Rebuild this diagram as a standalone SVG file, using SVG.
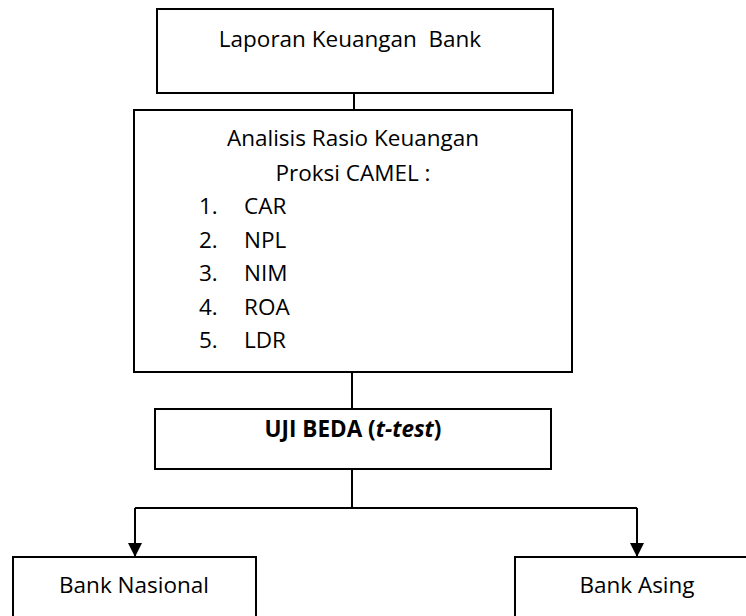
<svg xmlns="http://www.w3.org/2000/svg" width="746" height="616" viewBox="0 0 746 616">
<defs>
<style>
.box{fill:#fff;stroke:#000;stroke-width:2}
.t{font-family:"Open Sans","Noto Sans","Liberation Sans",sans-serif;font-size:22.5px;fill:#000}
.c{text-anchor:middle}
.b{font-weight:bold}
.ln{fill:none;stroke:#000;stroke-width:2}
</style>
<marker id="ah" viewBox="0 0 14 14" refX="14" refY="7" markerWidth="14" markerHeight="14" markerUnits="userSpaceOnUse" orient="auto">
<path d="M0,0 L14,7 L0,14 Z" fill="#000"/>
</marker>
</defs>
<rect width="746" height="616" fill="#fff"/>
<g id="connectors">
<line class="ln" x1="354" y1="93" x2="354" y2="110"/>
<line class="ln" x1="352" y1="372" x2="352" y2="409"/>
<path class="ln" d="M352,469 V508 M135,508 H637"/>
<path class="ln" d="M135,508 V557" marker-end="url(#ah)"/>
<path class="ln" d="M637,508 V557" marker-end="url(#ah)"/>
</g>
<g id="laporan">
<rect class="box" x="157" y="9" width="396" height="84"/>
<text class="t c" x="350" y="47" xml:space="preserve">Laporan Keuangan  Bank</text>
</g>
<g id="analisis">
<rect class="box" x="134" y="110" width="438" height="262"/>
<text class="t c" x="353" y="146">Analisis Rasio Keuangan</text>
<text class="t c" x="353" y="181">Proksi CAMEL :</text>
<text class="t" x="199" y="214">1.</text><text class="t" x="244" y="214">CAR</text>
<text class="t" x="199" y="248">2.</text><text class="t" x="244" y="248">NPL</text>
<text class="t" x="199" y="281">3.</text><text class="t" x="244" y="281">NIM</text>
<text class="t" x="199" y="315">4.</text><text class="t" x="244" y="315">ROA</text>
<text class="t" x="199" y="348">5.</text><text class="t" x="244" y="348">LDR</text>
</g>
<g id="uji">
<rect class="box" x="155" y="409" width="396" height="60"/>
<text class="t c b" x="353" y="437">UJI BEDA (<tspan font-style="italic">t-test</tspan>)</text>
</g>
<g id="nasional">
<rect class="box" x="13" y="557" width="243" height="80"/>
<text class="t c" x="134" y="593">Bank Nasional</text>
</g>
<g id="asing">
<rect class="box" x="515" y="557" width="243" height="80"/>
<text class="t c" x="637" y="593">Bank Asing</text>
</g>
</svg>
